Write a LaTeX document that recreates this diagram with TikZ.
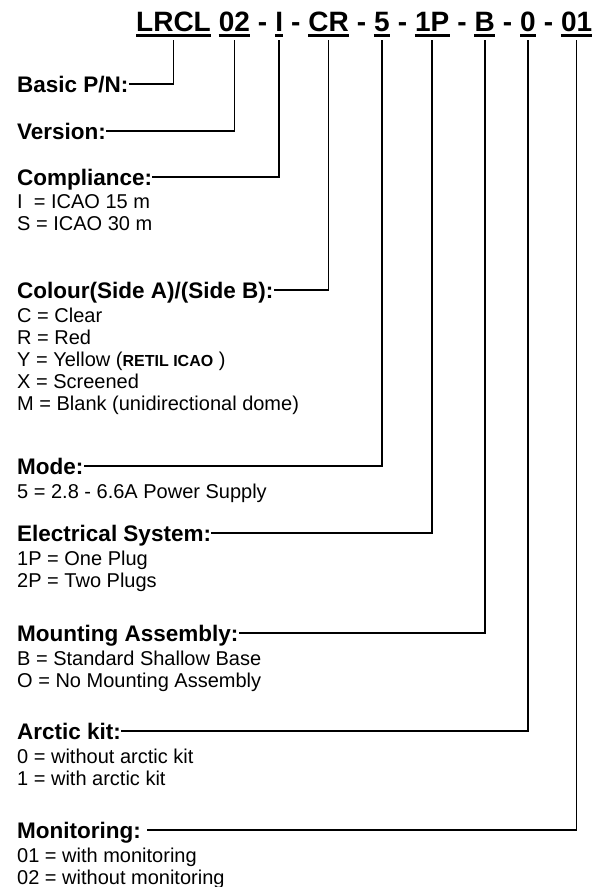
\documentclass[tikz,border=0pt]{standalone}
\usepackage{fontspec}
\setmainfont{Liberation Sans}
\usetikzlibrary{positioning}

\begin{document}
\begin{tikzpicture}[x=1pt, y=-1pt,
  code/.style={font=\bfseries\fontsize{28}{30}\selectfont, inner sep=0pt, text depth=9pt},
  head/.style={font=\bfseries\fontsize{22.5}{26}\selectfont, inner sep=0pt, text height=16pt, text depth=0pt, anchor=base west},
  desc/.style={font=\fontsize{20}{22}\selectfont, align=left, inner sep=0pt, anchor=north west},
  conn/.style={line width=1.5pt}]
\useasboundingbox (0,0) rectangle (602,887);

% part number
\node[code, anchor=base west] (cpn) at (136,31) {LRCL};
\node[code, base right=7.6pt of cpn] (cver) {02};
\node[code, base right=7.6pt of cver] (s1) {-};
\node[code, base right=7.6pt of s1] (ccomp) {I};
\node[code, base right=7.6pt of ccomp] (s2) {-};
\node[code, base right=7.6pt of s2] (ccol) {CR};
\node[code, base right=7.6pt of ccol] (s3) {-};
\node[code, base right=7.6pt of s3] (cmode) {5};
\node[code, base right=7.6pt of cmode] (s4) {-};
\node[code, base right=7.6pt of s4] (celec) {1P};
\node[code, base right=7.6pt of celec] (s5) {-};
\node[code, base right=7.6pt of s5] (cmount) {B};
\node[code, base right=7.6pt of cmount] (s6) {-};
\node[code, base right=7.6pt of s6] (carct) {0};
\node[code, base right=7.6pt of carct] (s7) {-};
\node[code, base right=7.6pt of s7] (cmon) {01};

\foreach \c in {cpn,cver,ccomp,ccol,cmode,celec,cmount,carct,cmon}
  \draw[line width=3pt] ([yshift=5pt]\c.south west) -- ([yshift=5pt]\c.south east);

% -------------------------------

\node[head] (hpn) at (17,92) {Basic P/N:};
\node[head] (hver) at (17,139) {Version:};

\node[head] (hcomp) at (17,185) {Compliance:};
\node[desc] (dcomp) at ([yshift=-9.5pt]hcomp.base west) {I\ \ = ICAO 15 m\\S = ICAO 30 m};

\node[head] (hcol) at (17,298) {Colour(Side A)/(Side B):};
\node[desc] (dcol) at ([yshift=-9.5pt]hcol.base west) {C = Clear\\R = Red\\Y = Yellow ({\bfseries\fontsize{16}{22}\selectfont RETIL ICAO} )\\X = Screened\\M = Blank (unidirectional dome)};

\node[head] (hmode) at (17,474) {Mode:};
\node[desc] (dmode) at ([yshift=-9.5pt]hmode.base west) {5 = 2.8 - 6.6A Power Supply};

\node[head] (helec) at (17,541) {Electrical System:};
\node[desc] (delec) at ([yshift=-9.5pt]helec.base west) {1P = One Plug\\2P = Two Plugs};

\node[head] (hmount) at (17,641) {Mounting Assembly:};
\node[desc] (dmount) at ([yshift=-9.5pt]hmount.base west) {B = Standard Shallow Base\\O = No Mounting Assembly};

\node[head] (harct) at (17,739) {Arctic kit:};
\node[desc] (darct) at ([yshift=-9.5pt]harct.base west) {0 = without arctic kit\\1 = with arctic kit};

\node[head] (hmon) at (17,838) {Monitoring:\kern6pt};
\node[desc] (dmon) at ([yshift=-9.5pt]hmon.base west) {01 = with monitoring\\02 = without monitoring};

\foreach \c/\h in {cpn/hpn,cver/hver,ccomp/hcomp,ccol/hcol,cmode/hmode,celec/helec,cmount/hmount,carct/harct,cmon/hmon}
  \draw[conn] (\c) |- (\h);
\end{tikzpicture}
\end{document}
